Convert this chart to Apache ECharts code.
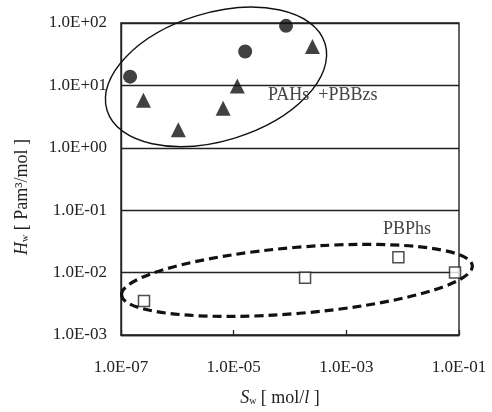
<!DOCTYPE html>
<html>
<head>
<meta charset="utf-8">
<script src="https://cdn.jsdelivr.net/npm/echarts@6/dist/echarts.min.js"></script>
<style>
  html, body { margin: 0; padding: 0; background: #ffffff; }
  #chart { width: 492px; height: 412px; }
</style>
</head>
<body>
<div id="chart"></div>
<script>
// PAHs (circles) and PBBzs (triangles): solubility Sw [mol/l] vs Henry constant Hw [Pa m3/mol]
const pahSw = [1.45e-7, 1.6e-5, 8.5e-5];
const pahHw = [13.8, 35, 90];
const pbbzSw = [2.5e-7, 1.04e-6, 6.5e-6, 1.16e-5, 2.5e-4];
const pbbzHw = [5.8, 1.95, 4.3, 9.8, 42];
// PBPhs (open squares)
const pbphSw = [2.56e-7, 1.85e-4, 8.4e-3, 8.5e-2];
const pbphHw = [3.5e-3, 8.3e-3, 1.77e-2, 1.0e-2];

// Tick labels by decade exponent
const xTickExp = [-7, -5, -3, -1];
const xTickLabels = ['1.0E-07', '1.0E-05', '1.0E-03', '1.0E-01'];
const yTickExp = [-3, -2, -1, 0, 1, 2];
const yTickLabels = ['1.0E-03', '1.0E-02', '1.0E-01', '1.0E+00', '1.0E+01', '1.0E+02'];

// Group names
const groupNames = ['PAHs  +PBBzs', 'PBPhs'];

const SERIF = '"Liberation Serif", "Times New Roman", serif';

function pairs(xs, ys) { return xs.map((x, i) => [x, ys[i]]); }
function lookup(exps, labels, v) {
  const e = Math.round(Math.log10(v));
  const i = exps.indexOf(e);
  return i >= 0 ? labels[i] : '';
}

const chart = echarts.init(document.getElementById('chart'), null, { renderer: 'canvas' });

const nameRich = {
  i: { fontFamily: SERIF, fontSize: 18, fontStyle: 'italic', color: '#222' },
  sub: { fontFamily: SERIF, fontSize: 10, color: '#222', padding: [7, 0, 0, 0] },
  n: { fontFamily: SERIF, fontSize: 18, color: '#222' },
  ni: { fontFamily: SERIF, fontSize: 18, fontStyle: 'italic', color: '#222' }
};

chart.setOption({
  animation: false,
  backgroundColor: '#ffffff',
  grid: {
    left: 121, right: 33, top: 23, bottom: 76,
    show: true, borderColor: '#222', borderWidth: 1.4, backgroundColor: 'transparent'
  },
  xAxis: {
    type: 'log', logBase: 10, min: 1e-7, max: 1e-1, interval: 2,
    name: '{i|S}{sub|w}{n| [ mol/}{ni|l}{n| ]}',
    nameLocation: 'middle', nameGap: 54,
    nameTextStyle: { rich: nameRich, padding: [0, 20, 0, 0] },
    axisLine: { show: true, lineStyle: { color: '#222', width: 1.4 } },
    axisTick: { show: true, inside: true, length: 5, lineStyle: { color: '#222', width: 1.3 } },
    minorTick: { show: false },
    splitLine: { show: false },
    axisLabel: {
      margin: 24, fontFamily: SERIF, fontSize: 17, color: '#222',
      formatter: v => lookup(xTickExp, xTickLabels, v)
    }
  },
  yAxis: {
    type: 'log', logBase: 10, min: 1e-3, max: 1e2, interval: 1,
    name: '{i|H}{sub|w}{n| [ Pam³/mol ]}',
    nameLocation: 'middle', nameGap: 90, nameRotate: 90,
    nameTextStyle: { rich: nameRich, padding: [0, 36, 0, 0] },
    axisLine: { show: true, lineStyle: { color: '#222', width: 1.4 } },
    axisTick: { show: false },
    minorTick: { show: false },
    splitLine: { show: true, lineStyle: { color: '#222', width: 1.4 } },
    axisLabel: {
      margin: 14, fontFamily: SERIF, fontSize: 17, color: '#222',
      formatter: v => lookup(yTickExp, yTickLabels, v)
    }
  },
  series: [
    {
      name: 'PAHs', type: 'scatter', symbol: 'circle', symbolSize: 14,
      itemStyle: { color: '#111' }, data: pairs(pahSw, pahHw), z: 5
    },
    {
      name: 'PBBzs', type: 'scatter', symbol: 'triangle', symbolSize: 15,
      itemStyle: { color: '#111' }, data: pairs(pbbzSw, pbbzHw), z: 5
    },
    {
      name: 'PBPhs', type: 'scatter', symbol: 'rect', symbolSize: 11,
      itemStyle: { color: '#ffffff', borderColor: '#222', borderWidth: 1.5 },
      data: pairs(pbphSw, pbphHw), z: 5
    }
  ]
});

// Group outlines and group names, placed from data coordinates
function px(x, y) { return chart.convertToPixel({ gridIndex: 0 }, [x, y]); }
const c1 = px(4.86e-6, 13.7);
const c2 = px(1.33e-4, 7.5e-3);
const t1 = px(4.07e-5, 7.06);
const t2 = px(4.48e-3, 0.049);

chart.setOption({
  graphic: [
    {
      type: 'ellipse', x: c1[0], y: c1[1], rotation: 17 * Math.PI / 180,
      shape: { cx: 0, cy: 0, rx: 114, ry: 64 },
      style: { fill: 'none', stroke: '#111', lineWidth: 1.4 }, z: 10
    },
    {
      type: 'ellipse', x: c2[0], y: c2[1], rotation: 4.8 * Math.PI / 180,
      shape: { cx: 0, cy: 0, rx: 176, ry: 33 },
      style: { fill: 'none', stroke: '#111', lineWidth: 3.2, lineDash: [9, 5] }, z: 10
    },
    {
      type: 'text', x: t1[0], y: t1[1],
      style: { text: groupNames[0], fontFamily: SERIF, fontSize: 18, fill: '#444',
               textAlign: 'left', textVerticalAlign: 'middle' }, z: 11
    },
    {
      type: 'text', x: t2[0], y: t2[1],
      style: { text: groupNames[1], fontFamily: SERIF, fontSize: 18, fill: '#444',
               textAlign: 'left', textVerticalAlign: 'middle' }, z: 11
    }
  ]
});
</script>
</body>
</html>
